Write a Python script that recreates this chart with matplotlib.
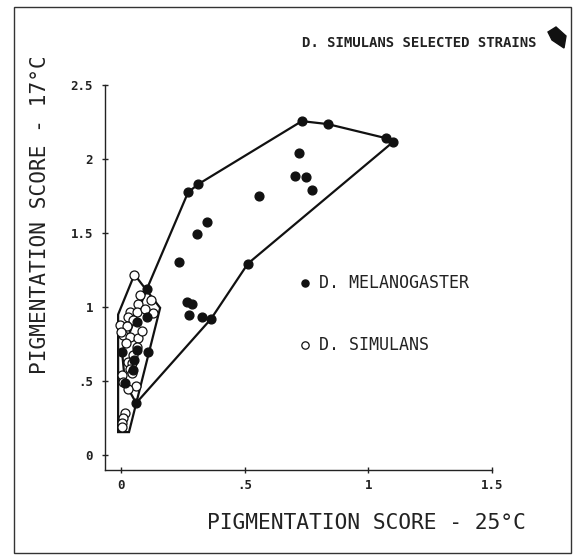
import matplotlib
matplotlib.use("Agg")
import matplotlib.pyplot as plt
from matplotlib.patches import Polygon, Rectangle

# D. melanogaster strains (filled dots)
mel_x = [0.731, 0.836, 1.071, 1.099, 0.719, 0.703, 0.747, 0.772, 0.558, 0.347,
         0.307, 0.234, 0.513, 0.311, 0.271, 0.267, 0.287, 0.275, 0.327, 0.364,
         0.061, 0.105, 0.105, 0.065, 0.109, 0.065, 0.004, 0.053, 0.048, 0.016]
mel_y = [2.256, 2.236, 2.141, 2.114, 2.039, 1.883, 1.877, 1.789, 1.748, 1.572,
         1.497, 1.308, 1.294, 1.829, 1.775, 1.037, 1.023, 0.948, 0.935, 0.921,
         0.352, 1.125, 0.935, 0.900, 0.698, 0.711, 0.698, 0.640, 0.576, 0.488]

# D. simulans strains (open circles)
sim_x = [0.054, 0.069, 0.036, 0.065, 0.028, 0.048, 0.130, 0.077, 0.120,
         -0.004, 0.024, 0.008, 0.036, 0.069, 0.065, 0.028, 0.044, 0.036, 0.004,
         0.044, 0.008, 0.016, 0.008, 0.004, 0.004, 0.050, 0.085, 0.020, 0.095,
         0.000, 0.060, 0.030]
sim_y = [1.220, 1.020, 0.970, 0.970, 0.930, 0.915, 0.960, 1.080, 1.050,
         0.880, 0.870, 0.810, 0.800, 0.790, 0.730, 0.630, 0.620, 0.580, 0.540,
         0.555, 0.495, 0.285, 0.250, 0.217, 0.190, 0.680, 0.840, 0.760, 0.990,
         0.830, 0.470, 0.450]

# hull outlines drawn round each species
mel_hull_x = [0.061, 0.364, 0.513, 1.099, 1.071, 0.836, 0.731, 0.311, 0.271,
              0.105, 0.004, 0.016]
mel_hull_y = [0.352, 0.921, 1.294, 2.114, 2.141, 2.236, 2.256, 1.829, 1.775,
              1.125, 0.698, 0.488]
sim_hull_x = [-0.012, 0.032, 0.158, 0.054, -0.012]
sim_hull_y = [0.156, 0.156, 0.995, 1.220, 0.950]

xticks = [0, 0.5, 1, 1.5]
xtick_labels = ["0", ".5", "1", "1.5"]
yticks = [0, 0.5, 1, 1.5, 2, 2.5]
ytick_labels = ["0", ".5", "1", "1.5", "2", "2.5"]

MONO = "DejaVu Sans Mono"

fig = plt.figure(figsize=(5.73, 5.60), dpi=100)
ax = fig.add_axes([105 / 573, 90 / 560, 387 / 573, 385 / 560])

ax.add_patch(Polygon(list(zip(mel_hull_x, mel_hull_y)), closed=True,
                     fill=False, ec="#111111", lw=1.6, zorder=2))
ax.add_patch(Polygon(list(zip(sim_hull_x, sim_hull_y)), closed=True,
                     fill=False, ec="#111111", lw=1.6, zorder=2))

ax.scatter(sim_x, sim_y, s=42, facecolor="white", edgecolor="#111111",
           linewidth=0.9, zorder=3)
ax.scatter(mel_x, mel_y, s=40, color="#111111", zorder=4)

ax.set_xlim(-0.065, 1.5)
ax.set_ylim(-0.1, 2.5)
for side in ["top", "right"]:
    ax.spines[side].set_visible(False)
for side in ["left", "bottom"]:
    ax.spines[side].set_linewidth(1.0)
    ax.spines[side].set_color("#222222")

ax.set_xticks(xticks)
ax.set_xticklabels(xtick_labels, family=MONO, fontsize=9, fontweight="bold")
ax.set_yticks(yticks)
ax.set_yticklabels(ytick_labels, family=MONO, fontsize=9, fontweight="bold")
ax.tick_params(axis="both", direction="inout", length=5, width=1,
               color="#222222", labelcolor="#222222")
ax.tick_params(axis="y", pad=6)
ax.tick_params(axis="x", pad=4)

# legend written as plain text like the original plot
ax.scatter([0.745], [1.16], s=26, color="#111111", clip_on=False)
ax.text(0.80, 1.16, "D. MELANOGASTER", family=MONO, fontsize=12,
        va="center", ha="left", color="#222222")
ax.scatter([0.745], [0.745], s=28, facecolor="white", edgecolor="#111111",
           linewidth=0.9, clip_on=False)
ax.text(0.80, 0.745, "D. SIMULANS", family=MONO, fontsize=12,
        va="center", ha="left", color="#222222")

fig.text(537 / 573, 1 - 43 / 560, "D. SIMULANS SELECTED STRAINS", family=MONO,
         fontsize=10.1, fontweight="bold", ha="right", va="center",
         color="#222222")
fig.text(366 / 573, 1 - 523 / 560, "PIGMENTATION SCORE - 25°C", family=MONO,
         fontsize=15.3, ha="center", va="center", color="#222222")
fig.text(40 / 573, 1 - 215 / 560, "PIGMENTATION SCORE - 17°C", family=MONO,
         fontsize=15.2, ha="center", va="center", rotation=90, color="#222222")

# page frame and corner mark
fig.patches.append(Rectangle((14 / 573, 7 / 560), 557 / 573, 546 / 560,
                             transform=fig.transFigure, fill=False,
                             ec="#333333", lw=1.0))
fig.patches.append(Polygon([(548 / 573, 1 - 32 / 560), (556 / 573, 1 - 27 / 560),
                            (566 / 573, 1 - 36 / 560), (564 / 573, 1 - 48 / 560),
                            (552 / 573, 1 - 40 / 560)],
                           closed=True, transform=fig.transFigure,
                           color="#111111"))

fig.savefig("out.png", dpi=100)
